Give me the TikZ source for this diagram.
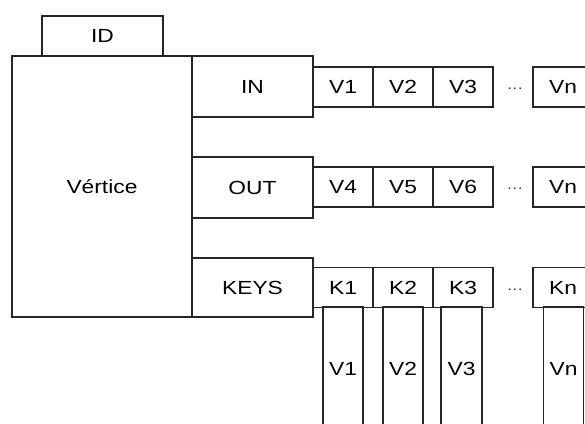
\documentclass[tikz,border=0pt]{standalone}
\usepackage{fontspec}
\setmainfont{Liberation Sans}[FakeStretch=1.2]
\usepackage{tikz}
\usetikzlibrary{positioning}

\begin{document}
\begin{tikzpicture}[x=1pt, y=-1pt,
        cell/.style={draw=black!85, line width=1.4pt, inner sep=0pt, font=\fontsize{19}{22}\selectfont,
                     minimum width=60pt, minimum height=40pt},
        side/.style={cell, minimum width=121pt, minimum height=61pt},
        col/.style={cell, minimum width=40pt, minimum height=123pt},
        gap/.style={font=\fontsize{14}{16}\selectfont, text=black!80}
    ]
    \useasboundingbox (0,0) rectangle (585,423);
    \clip (0,0) rectangle (585,423);
    % vertex and its id
    \node[cell, minimum width=121pt] (id) at (102.5,36) {ID};
    \node[cell, minimum width=180pt, minimum height=261pt] (vert) at (102,186.5) {Vértice};
    \node[side] (in) at (252.5,86.5) {IN};
    \node[side] (out) at (252.5,187.5) {OUT};
    \node[side, minimum height=59pt] (keys) at (252.5,287.5) {KEYS};
    % IN list
    \node[cell] (inA) at (343,87) {V1};
    \node[cell] (inB) at (403,87) {V2};
    \node[cell] (inC) at (463,87) {V3};
    \node[gap] (inD) at (515,89) {\ldots};
    \node[cell, minimum width=57pt] (inN) at (561.5,87) {\hspace*{3pt}Vn};
    % OUT list
    \node[cell] (outA) at (343,187) {V4};
    \node[cell] (outB) at (403,187) {V5};
    \node[cell] (outC) at (463,187) {V6};
    \node[gap] (outD) at (515,189) {\ldots};
    \node[cell, minimum width=57pt] (outN) at (561.5,187) {\hspace*{3pt}Vn};
    % KEYS list
    \node[cell] (keyA) at (343,287.5) {K1};
    \node[cell] (keyB) at (403,287.5) {K2};
    \node[cell] (keyC) at (463,287.5) {K3};
    \node[gap] (keyD) at (515,289.5) {\ldots};
    \node[cell, minimum width=57pt] (keyN) at (561.5,287.5) {\hspace*{3pt}Kn};
    % values hanging below the keys
    \node[col] (valA) at (343,368.5) {V1};
    \node[col] (valB) at (403,368.5) {V2};
    \node[col, minimum width=41pt] (valC) at (461.5,368.5) {V3};
    \node[col] (valN) at (563.5,368.5) {Vn};
\end{tikzpicture}
\end{document}
